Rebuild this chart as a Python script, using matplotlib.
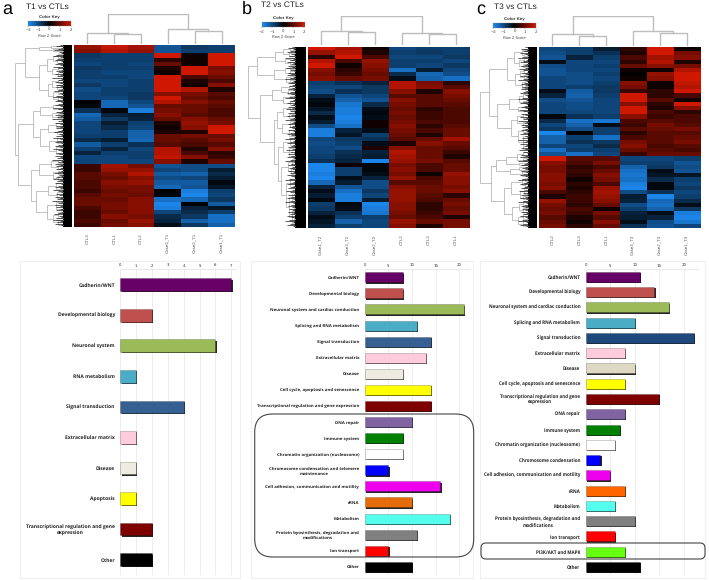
import matplotlib
matplotlib.use("Agg")
import matplotlib.pyplot as plt
import matplotlib.patheffects as pe
from matplotlib.colors import LinearSegmentedColormap, TwoSlopeNorm
from matplotlib.patches import FancyBboxPatch, Rectangle
import numpy as np

plt.rcParams["text.hinting"] = "none"
W, H = 709, 580

# ---------- heat map values (row Z-scores) ----------
columns_a = ["CTL3", "CTL1", "CTL2", "Case3_T1", "Case2_T1", "Case1_T1"]
heat_a = [
 [1.0,1.3,1.1,-1.2,-.8,-.9],[.9,1.2,1.0,-1.2,-.9,-.9],[-.8,-.9,-.9,1.8,.1,1.8],[-.9,-.9,-.9,.3,.1,1.9],
 [-1.0,-.9,-1,.7,.1,1.9],[-.8,-.9,-.9,.2,1.5,.8],[-.9,-1,-1,.1,1.7,.9],[-.9,-.9,-1,1.5,.5,.7],
 [-1,-1,-.9,1.9,.2,.5],[-.8,-1,-.9,1.9,.1,.9],[-1.1,-.9,-.9,1.7,1.2,.2],[-1,-.9,-.8,.9,.8,.6],
 [-1,-1,-.8,1.5,.7,.5],[0,-1.5,-1,1.2,.9,.7],[-.1,-1.5,-1.2,.7,.7,.6],[-.7,-.1,-1.8,.8,.7,.5],
 [-1.5,-.5,-.4,.9,.6,.5],[-1.3,-.8,-.5,.7,.9,.7],[-1,-.4,-.9,.2,1,.8],[-1,-.6,-1,.1,.9,1.5],
 [-1,-.9,-1.4,.2,.2,1.6],[-.9,-.9,-1.4,.7,.8,.7],[-.6,-.4,-1.5,.7,.6,.8],[-1.3,-.9,-.7,.6,.5,.6],
 [-.9,-.5,-1,1.2,.2,.9],[-.5,-.9,-.9,1.2,.5,.3],[-1,-1,-.9,1.3,.9,.4],[-1,-1,-1,.9,.2,.7],
 [.4,1.1,.8,-1.2,-1.1,-1.1],[.4,1.0,1,-1,-1.1,-.4],[.6,.8,1.2,-1.3,-1.4,-.6],[.6,.7,.9,-1.1,-1,-.4],
 [.5,.9,1,-1.3,-1.3,-.1],[.5,.8,.8,-1.5,-1.2,-.3],[.4,.7,.8,0,-1.8,-.9],[.6,.8,.7,-.1,-1.9,-1],
 [.7,.7,.9,-1.6,-1.5,-.8],[.7,.8,.9,-1.9,0,-1.3],[.5,.8,.9,-1.8,-.5,-.3],[.4,.7,.9,-1,-.6,-.9],
 [.4,.9,.8,-.6,-.8,-1.6],[.5,.7,1,-.5,-1.4,-1.6],[.4,.8,.9,-.2,-.8,-1.4],
]
columns_b = ["Case1_T2", "Case3_T2", "Case2_T2", "CTL2", "CTL3", "CTL1"]
heat_b = [
 [1.5,1.1,.1,-1,-.9,-.9],[1,1.2,.2,-.9,-.8,-.9],[.3,1.9,.5,-1,-1,-.8],[1.2,.5,1,-.9,-.9,-1],
 [1.7,.1,.9,-.9,-1,-.8],[.9,.3,.8,-1.6,-.4,-1],[.8,.4,.7,-.6,-1.5,-1.1],[.9,.7,.8,-.2,-1.4,-1.6],
 [-.9,-.7,-.5,1.2,.8,.3],[-1,-1,-.8,1.2,.9,.6],[-1.1,-.7,-.8,.9,.2,.9],[-.5,-1.2,-1,.6,.6,.8],
 [-.2,-1.4,-1.2,.9,.6,.7],[-.1,-1.7,-.6,.8,.6,.6],[-.3,-1.8,-.2,.7,.3,.5],[-.6,-1.8,-.1,.8,.4,.5],
 [-.2,-1.9,-.2,.7,.4,.5],[-.4,-1.8,.1,.8,.5,.5],[-1.1,-1.6,.1,.9,.3,.6],[-1.8,-.5,-.2,.8,.5,.7],
 [-1.8,-.3,-.9,.7,.2,.7],[-1,-.8,-.7,.6,.7,1.1],[-1.1,-.9,-.2,.2,.9,.7],[-1,-1.1,.2,.9,.7,.6],
 [-1,-.7,-.5,1.2,.7,.4],[-.9,-.6,-.4,1.1,.7,.2],[-.7,-.5,-1.9,1,.8,.6],[-1.9,.1,-.1,.8,.5,.7],
 [-1.9,-.9,-.1,.9,.5,.7],[-1.8,-.9,-.2,.8,.1,1],[-1.9,-.2,-.5,1,.5,.9],[-1.5,-.4,-1.1,.6,.6,.9],
 [-.5,-1.2,-1.1,.9,.7,.8],[-.2,-1.6,-.8,1,.7,.9],[-.4,-1.8,-1,1,.6,.3],[-.1,-1.8,-.4,1,.5,.7],
 [-.9,-.1,-1.9,.9,.3,.8],[-.8,-.2,-1.8,.9,.3,.7],[-.5,-.7,-1.7,.8,.4,.8],[-.2,-.9,-.9,.7,.5,.2],
 [-.3,-1.4,-1,1,.7,.8],[-.5,-.9,-1,.9,.2,.8],
]
columns_c = ["CTL2", "CTL3", "CTL1", "Case3_T3", "Case2_T3", "Case1_T3"]
heat_c = [
 [-1,-.9,-.4,.3,1.9,.1],[-1.1,-.9,-.7,.2,1.7,.8],[-1.2,-.5,-.9,.5,1.1,.9],[-.2,-1,-1,.3,1.2,.2],
 [-1.1,-1,-.9,.7,.9,.8],[-1.2,-1,-1,.1,.1,1.2],[-1.2,-1.1,-.9,0,1,1.9],[-1,-1.1,-1,.1,.9,1.4],
 [-1,-1.1,-.9,.9,.1,1.3],[-1,-.9,-.8,.8,.1,1.2],[-.2,-1.3,-.8,.4,.3,1.4],[-.5,-1.4,-.9,1.7,.3,.5],
 [-1.1,-1.2,-1,1.8,.6,.1],[-1,-1.1,-1,.9,.3,1.7],[-1,-1.1,-1,1.9,.2,.9],[-1,-1,-1,1.8,.5,.3],
 [-.1,-.7,-.9,.9,.4,.5],[-.6,-1.6,-1.7,.5,.6,.5],[-1,-1.4,-.2,.4,.8,.6],[-.8,-1.1,-.9,.6,.7,.8],
 [-1.9,0,-.9,.3,.6,.6],[-1.4,-.9,-1.6,.5,.6,.7],[-1.4,-.7,-.8,.8,.6,.8],[-1,-1,-.6,.9,.5,.6],
 [-1.6,-.9,-.9,.7,.6,.5],[-1.2,-1.6,-1,.4,.7,.7],[1.6,.6,.6,-1,-1,-.9],[.9,.5,.8,-.9,-.9,-1.2],
 [.8,.3,.5,-1.4,-.8,-1.1],[.8,.4,.7,-1.6,-.2,-1.2],[.9,.3,.9,-1.7,-.3,-.3],[.9,.1,.8,-1.6,-.6,-.9],
 [.8,.3,.5,-1.8,-.1,-1],[.9,.2,1,-1.9,-.1,-.8],[.5,.3,1.1,-1.1,-.7,-1],[.2,.4,1,-.4,-1.9,-.9],
 [1,.4,.9,-.5,-1.5,-.6],[.8,.3,.7,-1.1,-1.6,-.2],[.7,.5,.1,-.9,-1.4,-.8],[.8,.4,.8,-.5,-.2,-1.8],
 [.6,.2,.6,-.4,-.5,-1.9],[.7,.1,.9,-.2,-1.1,-1.7],[.8,.3,.7,-.7,-1.2,-1],
]

# ---------- dendrograms: (height, child, child); a bare number is a leaf ----------
col_tree_a = (1.0, (.36, 0, (.31, 1, 2)), (.48, 3, (.43, 4, 5)))
col_tree_b = (1.0, (.48, 0, (.44, 1, 2)), (.40, 3, (.36, 4, 5)))
col_tree_c = (1.0, (.39, 0, (.34, 1, 2)), (.50, 3, (.45, 4, 5)))

row_tree_a = (1.0,
 (.79, (.50, (.25, .6, 1.5), (.2, 2.2, 3.2)),
       (.49, (.32, (.2, (.1, 5, 7), (.12, 8, 10)), (.22, (.1, 12, 14), (.1, 15, 17))),
             (.30, (.22, (.1, 19, 21), (.12, 22, 24)), (.2, (.1, 25, 27), (.1, 28, 31))))),
 (.93, (.62, (.48, (.2, 33, 35), (.22, (.1, 37, 38), (.1, 39, 40))),
             (.48, (.3, (.15, 43, 45), (.12, 47, 49)), (.28, (.12, 51, 54), (.15, 56, 60)))),
       (.67, (.49, (.25, (.1, 63, 65), (.1, 66, 68)), (.2, (.1, 69, 71), (.1, 72, 74))),
             (.55, (.3, (.15, 76, 79), (.12, 81, 84)), (.32, (.15, 86, 90), (.2, (.1, 92, 95), (.1, 96, 99)))))))
row_tree_b = (1.0,
 (.81, (.43, (.25, (.1, .8, 2), (.12, 3.5, 5)), (.22, (.1, 6, 7.5), (.1, 8.5, 10))),
       (.46, (.22, (.1, 11, 12.5), (.1, 13.5, 15)), (.2, (.1, 16, 17.5), (.1, 18.5, 20)))),
 (.76, (.50, (.3, (.12, 21.5, 23), (.14, 24, 26)), (.25, (.1, 27, 28.5), (.1, 30, 32))),
       (.46, (.38, (.25, (.1, 33, 35), (.12, 37, 39)), (.28, (.1, 41, 44), (.12, 46, 49))),
             (.36, (.26, (.1, 51, 54), (.12, 56, 60)), (.3, (.14, (.07, 62, 65), (.08, 67, 70)),
                   (.2, (.1, 73, 77), (.12, (.06, 81, 85), (.07, (.03, 89, 92), (.03, 95, 99)))))))))
row_tree_c = (1.0,
 (.81, (.44, (.3, (.14, (.07, .7, 2), (.08, 3.5, 5)), (.2, (.08, 6, 8), (.1, 9.5, 11))),
             (.28, (.18, (.08, 12.5, 14), (.09, 15.5, 17)), (.14, (.07, 18, 20), (.07, 21.5, 24)))),
       (.64, (.4, (.2, (.1, 26, 28), (.1, 29.5, 31)), (.22, 33, 35)),
             (.36, (.24, (.1, 37, 39), (.1, 41, 43)), (.22, (.1, 45, 47), (.1, 49, 56))))),
 (.78, (.66, (.46, (.24, (.1, 58, 60), (.12, 61, 63)), (.2, 64, 65)), (.38, (.2, 66, 68), (.14, 69, 71))),
       (.50, (.36, (.14, (.07, 72, 74), (.07, 75, 77)), (.18, (.08, 78, 81), (.1, 82, 84))),
             (.34, (.2, (.1, 85, 88), (.1, 89, 91)), (.22, (.1, 92, 95), (.12, 96, 99))))))
leaf_fan = [.05,.11,.03,.08,.14,.06,.02,.10,.16,.04,.09,.13,.03,.07,.12,.05,.15,.08,.02,.11,.06,.13,.04,.09,.17,.03,.07,.12,.05,.10]

# ---------- bar chart values ----------
labels_a = ["Cadherin/WNT", "Developmental biology", "Neuronal system", "RNA metabolism", "Signal transduction",
            "Extracellular matrix", "Disease", "Apoptosis", "Transcriptional regulation and gene\nexpression", "Other"]
values_a = [7, 2, 6, 1, 4, 1, 1, 1, 2, 2]
colors_a = ["#660066", "#C0504D", "#9BBB59", "#4BACC6", "#366092", "#FFCCDD", "#EEECE1", "#FFFF00", "#7F0000", "#000000"]

labels_b = ["Cadherin/WNT", "Developmental biology", "Neuronal system and cardiac conduction", "Splicing and RNA metabolism",
            "Signal transduction", "Extracellular matrix", "Disease", "Cell cycle, apoptosis and senescence",
            "Transcriptional regulation and gene expression", "DNA repair", "Immune system",
            "Chromatin organization (nucleosome)", "Chromosome condensation and telomere\nmaintenance",
            "Cell adhesion, communication and motility", "rRNA", "Metabolism",
            "Protein byosinthesis, degradation and\nmodifications", "Ion transport", "Other"]
values_b = [8, 8, 21, 11, 14, 13, 8, 14, 14, 10, 8, 8, 5, 16, 10, 18, 11, 5, 10]
colors_b = ["#660066", "#C0504D", "#9BBB59", "#4BACC6", "#366092", "#FFCCDD", "#EEECE1", "#FFFF00", "#7F0000", "#8064A2",
            "#008000", "#FFFFFF", "#0000FF", "#EE00EE", "#E46C0A", "#55FFEE", "#808080", "#FF0000", "#000000"]

labels_c = ["Cadherin/WNT", "Developmental biology", "Neuronal system and cardiac conduction", "Splicing and RNA metabolism",
            "Signal transduction", "Extracellular matrix", "Disease", "Cell cycle, apoptosis and senescence",
            "Transcriptional regulation and gene\nexpression", "DNA repair", "Immune system",
            "Chromatin organization (nucleosome)", "Chromosome condensation", "Cell adhesion, communication and motility",
            "rRNA", "Metabolism", "Protein byosinthesis, degradation and\nmodifications", "Ion transport",
            "PI3K/AKT and MAPK", "Other"]
values_c = [11, 14, 17, 10, 22, 8, 10, 8, 15, 8, 7, 6, 3, 5, 8, 6, 10, 6, 8, 11]
colors_c = ["#660066", "#C0504D", "#9BBB59", "#4BACC6", "#1F497D", "#FFCCDD", "#DDD9C3", "#FFFF00", "#7F0000", "#8064A2",
            "#008000", "#FFFFFF", "#0000FF", "#EE00EE", "#FF6600", "#55FFEE", "#808080", "#FF0000", "#66FF11", "#000000"]

key_ticks = [-2, -1, 0, 1, 2]
titles = ["T1 vs CTLs", "T2 vs CTLs", "T3 vs CTLs"]
letters = ["a", "b", "c"]

# ---------- layout ----------
SANS = ["Liberation Sans", "DejaVu Sans"]
BOLD = ["Open Sans", "DejaVu Sans"]
cmap = LinearSegmentedColormap.from_list("bkr", ["#1E8CF5", "#000000", "#D01800"])
heat_norm = TwoSlopeNorm(vmin=-2.0, vcenter=0, vmax=1.4)
fig = plt.figure(figsize=(W / 100, H / 100), dpi=100, facecolor="white")

def px_axes(x0, y0, x1, y1, **kw):
    return fig.add_axes([x0 / W, 1 - y1 / H, (x1 - x0) / W, (y1 - y0) / H], **kw)

overlay = px_axes(0, 0, W, H, zorder=5)
overlay.set_xlim(0, W); overlay.set_ylim(H, 0); overlay.axis("off"); overlay.patch.set_alpha(0)
under = px_axes(0, 0, W, H, zorder=0)
under.set_xlim(0, W); under.set_ylim(H, 0); under.axis("off")

def draw_tree(ax, node, left):
    if not isinstance(node, tuple):
        return node, 0.0
    h, a, b = node
    pa, ha = draw_tree(ax, a, left)
    pb, hb = draw_tree(ax, b, left)
    xs = [ha, h, h, hb]; ys = [pa, pa, pb, pb]
    if left:
        ax.plot(xs, ys, color="#b8b8b8", lw=0.6, solid_joinstyle="miter")
    else:
        ax.plot(ys, xs, color="#bdbdbd", lw=1.0, solid_joinstyle="miter")
    return (pa + pb) / 2, h

def heatmap_panel(values, cols, ctree, rtree, heat, top, left, key, title, tpos, letter):
    hx0, hy0, hx1, hy1 = heat
    ax = px_axes(hx0, hy0, hx1, hy1)
    ax.imshow(np.array(values), cmap=cmap, norm=heat_norm, aspect="auto", interpolation="nearest")
    ax.set_xticks([]); ax.set_yticks([])
    for s in ax.spines.values():
        s.set_visible(False)

    for i, c in enumerate(cols):
        xc = hx0 + (i + .5) * (hx1 - hx0) / 6
        overlay.text(xc, hy1 + 6, c, rotation=90, ha="center", va="top", fontsize=3.2, color="#555555", family=SANS)

    t0, t1 = top
    tax = px_axes(hx0, t0, hx1, t1)
    tax.set_xlim(-.5, 5.5); tax.set_ylim(0, 1); tax.axis("off")
    draw_tree(tax, ctree, False)

    rx, bx0, bx1 = left
    lax = px_axes(rx, hy0, bx1, hy1)
    depth = (bx1 - bx0) / (bx0 - rx)
    lax.set_xlim(1, -depth); lax.set_ylim(100, 0); lax.axis("off")
    lax.axvspan(-depth, 0, color="black", lw=0)
    draw_tree(lax, rtree, True)
    for i, p in enumerate(np.arange(0, 100, .75)):
        lax.hlines(p, 0, leaf_fan[i % len(leaf_fan)] * 1.3, color="black", lw=0.45)

    kx0, ky0, kx1, ky1 = key
    kax = px_axes(kx0, ky0, kx1, ky1)
    kax.imshow(np.linspace(-2, 2, 128)[None, :], cmap=cmap, aspect="auto", extent=[-2, 2, 0, 1])
    kax.set_yticks([]); kax.set_xticks(key_ticks)
    kax.tick_params(axis="x", length=1, width=.3, pad=.6, labelsize=2.8, labelcolor="#444444", color="#555555")
    for s in kax.spines.values():
        s.set_linewidth(.2); s.set_color("#888888")
    overlay.text((kx0 + kx1) / 2, ky0 - 4, "Color Key", ha="center", va="center", fontsize=3.2, weight="bold", color="#333333", family=SANS)
    overlay.text((kx0 + kx1) / 2, ky1 + 10, "Row Z-Score", ha="center", va="center", fontsize=2.8, color="#444444", family=SANS)
    overlay.text(tpos[0], tpos[1], title, ha="left", va="center", fontsize=6.0, color="#222222", family=SANS)
    overlay.text(letter[1], 9, letter[0], ha="left", va="center", fontsize=13, color="black", family=SANS)

def bar_panel(labels, values, colors, frame, x0, scale, xend, ticks, y_first, dy, bh, fs):
    under.add_patch(Rectangle((frame[0], frame[1]), frame[2] - frame[0], frame[3] - frame[1],
                              fc="white", ec="#f0f0f0", lw=.8))
    yt, yb = 269, 575
    ax = px_axes(x0, yt, xend, yb)
    ax.patch.set_alpha(0)
    ax.set_xlim(0, (xend - x0) / scale)
    ax.set_ylim((yb - y_first) / dy, (yt - y_first) / dy)
    pos = list(range(len(values)))
    bars = ax.barh(pos, values, height=bh / dy, color=colors, edgecolor="#00000055", lw=.4, zorder=3)
    for b in bars:
        b.set_path_effects([pe.SimplePatchShadow(offset=(.9, -.9), shadow_rgbFace="black", alpha=.85), pe.Normal()])
    ax.set_yticks(pos); ax.set_yticklabels(labels, fontsize=fs, family=BOLD, weight="bold", color="#222222",
                                           linespacing=1.25, ha="right", multialignment="center")
    ax.tick_params(axis="y", length=0, pad=3.9)
    ax.xaxis.tick_top()
    ax.set_xticks(ticks)
    ax.tick_params(axis="x", length=0, pad=1.2, labelsize=2.8, labelcolor="#333333")
    ax.grid(axis="x", color="#e6e6e6", lw=.5, zorder=0)
    ax.set_axisbelow(True)
    for k, s in ax.spines.items():
        s.set_visible(k == "top"); s.set_color("#e0e0e0"); s.set_linewidth(.5)

heatmap_panel(heat_a, columns_a, col_tree_a, row_tree_a, (74, 45, 235, 227), (14, 43.5), (15, 62.7, 71.7),
              (28, 20.7, 70.7, 26), titles[0], (26, 6.7), (letters[0], 2))
heatmap_panel(heat_b, columns_b, col_tree_b, row_tree_b, (307.7, 46.7, 469.3, 228.3), (15.7, 45), (248.3, 295, 305.7),
              (261.7, 21.7, 304, 27.3), titles[1], (260.7, 5), (letters[1], 242))
heatmap_panel(heat_c, columns_c, col_tree_c, row_tree_c, (539, 47.3, 700.3, 228.3), (16, 46), (480, 528.3, 537.3),
              (493.3, 22.7, 535.7, 28), titles[2], (494, 6.7), (letters[2], 476))

bar_panel(labels_a, values_a, colors_a, (20, 261, 240, 578), 120.3, 15.86, 236, list(range(8)), 284.7, 30.55, 12.7, 3.65)
bar_panel(labels_b, values_b, colors_b, (251, 261, 473, 578), 364.7, 4.73, 470, [0, 5, 10, 15, 20], 277.3, 16.08, 10, 3.2)
bar_panel(labels_c, values_c, colors_c, (480, 261, 705, 578), 585.7, 4.9, 698, [0, 5, 10, 15, 20], 276.7, 15.28, 10, 3.25)

overlay.add_patch(FancyBboxPatch((272.7, 432), 183, 107, boxstyle="round,pad=18,rounding_size=18", fc="none", ec="#444444", lw=.8))
overlay.add_patch(FancyBboxPatch((486, 548), 214, 6, boxstyle="round,pad=5,rounding_size=5", fc="none", ec="#444444", lw=.8))

fig.savefig("out.png", dpi=100)
